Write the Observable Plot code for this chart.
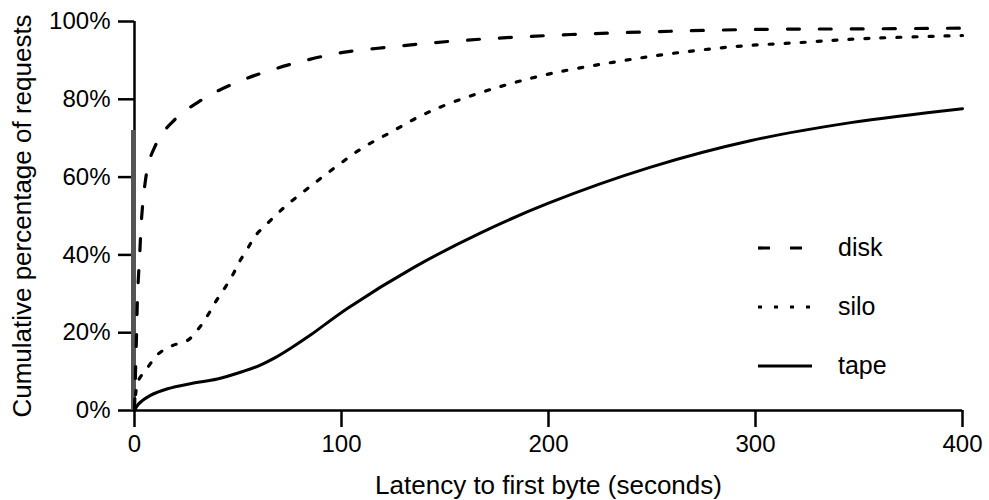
<!DOCTYPE html>
<html>
<head>
<meta charset="utf-8">
<script src="https://cdn.jsdelivr.net/npm/d3@7"></script>
<script src="https://cdn.jsdelivr.net/npm/@observablehq/plot@0.6"></script>
<style>
  html, body { margin: 0; padding: 0; background: #fff; }
  #wrap { position: relative; width: 989px; height: 500px; font-family: "Liberation Sans", Arial, Helvetica, sans-serif; }
  #legend { position: absolute; left: 756px; top: 218px; font-size: 25px; color: #000; }
  #legend .row { display: flex; align-items: center; height: 59px; }
  #legend svg { width: 60px; height: 10px; margin-right: 22px; }
</style>
</head>
<body>
<div id="wrap"></div>
<script>
// Latency to first byte (seconds) vs cumulative percentage of requests
const diskX = [0, 0.5, 1, 1.5, 2.5, 3.5, 5, 7, 10, 13, 18, 23, 30, 36, 50, 63, 79, 100, 125, 150, 175, 213, 259, 306, 351, 400];
const diskY = [0, 10, 20, 30, 40, 50, 58, 64, 68, 71, 74, 76.5, 79, 81, 84.5, 87, 89.5, 92, 93.5, 94.8, 95.7, 96.7, 97.5, 98, 98.1, 98.3];

const siloX = [0, 0.5, 1.9, 6.3, 11.6, 18.4, 25.6, 30.9, 35.3, 39, 43, 47.3, 50.2, 54.6, 58.5, 63.3, 69, 74.5, 86.6, 98.7, 110.7, 123.7, 137, 151, 175, 201, 231, 260, 291, 322, 352, 400];
const siloY = [0, 4, 7.7, 11, 14.6, 16.7, 18, 21, 24.4, 27.8, 31, 34.7, 37.8, 41.6, 45, 47.6, 50.6, 53.2, 58.3, 63.2, 67.7, 71.5, 75.4, 78.7, 83, 86.6, 89.5, 91.8, 93.6, 94.6, 95.6, 96.4];

const tapeX = [0, 2, 7.7, 16, 27, 40, 52.7, 60, 68, 76, 85, 103, 135, 167, 200, 249, 298, 346, 400];
const tapeY = [0, 1.7, 3.9, 5.6, 6.9, 8.1, 10.1, 11.5, 13.6, 16.2, 19.4, 26.3, 36.8, 45.6, 53.3, 62.5, 69.4, 74, 77.6];

const spikeTop = [72]; // dense overlap of curves at zero latency
const xTicks = [0, 100, 200, 300, 400];
const yTicks = [0, 20, 40, 60, 80, 100];
const seriesNames = ["disk", "silo", "tape"];
const dashes = { disk: "12,20", silo: "4,12", tape: null };
const xLabel = "Latency to first byte (seconds)";
const yLabel = "Cumulative percentage of requests";

const pts = (xs, ys) => xs.map((x, i) => ({ x, y: ys[i] }));
const disk = pts(diskX, diskY), silo = pts(siloX, siloY), tape = pts(tapeX, tapeY);

const chart = Plot.plot({
  width: 989,
  height: 500,
  marginLeft: 134,
  marginRight: 27,
  marginTop: 21,
  marginBottom: 90,
  style: { fontFamily: '"Liberation Sans", Arial, Helvetica, sans-serif', fontSize: "24px", color: "#000", background: "#fff", overflow: "visible" },
  x: { domain: [0, 400] },
  y: { domain: [0, 100] },
  marks: [
    Plot.axisX({ ticks: xTicks, tickSize: 17, tickPadding: 7, strokeWidth: 2.5, label: null, fontSize: 24 }),
    Plot.axisY({ ticks: yTicks, tickSize: 16, tickPadding: 8, strokeWidth: 2.5, tickFormat: d => d + "%", label: null, fontSize: 24 }),
    Plot.ruleY([0], { x1: 0, x2: 400, stroke: "#000", strokeWidth: 2.5 }),
    Plot.ruleX([0], { y1: 0, y2: 100, stroke: "#000", strokeWidth: 2.5 }),
    Plot.ruleX(spikeTop, { x: 0, y1: 0, y2: d => d, stroke: "#555", strokeWidth: 5, dx: -1 }),
    Plot.line(disk, { x: "x", y: "y", curve: "catmull-rom", stroke: "#000", strokeWidth: 3.2, strokeDasharray: dashes.disk }),
    Plot.line(silo, { x: "x", y: "y", curve: "catmull-rom", stroke: "#000", strokeWidth: 3.2, strokeDasharray: dashes.silo }),
    Plot.line(tape, { x: "x", y: "y", curve: "catmull-rom", stroke: "#000", strokeWidth: 3 }),
    Plot.text([xLabel], { frameAnchor: "bottom", dy: 75, fontSize: 26, fill: "#000", textAnchor: "middle", lineAnchor: "middle" }),
    Plot.text([yLabel], { frameAnchor: "left", dx: -112, rotate: -90, fontSize: 26, fill: "#000", textAnchor: "middle", lineAnchor: "middle" })
  ]
});

const wrap = document.getElementById("wrap");
wrap.appendChild(chart);

const legend = document.createElement("div");
legend.id = "legend";
for (const name of seriesNames) {
  const row = document.createElement("div");
  row.className = "row";
  const da = dashes[name];
  row.innerHTML = `<svg viewBox="0 0 60 10"><line x1="2" y1="5" x2="56" y2="5" stroke="#000" stroke-width="3.2" ${da ? `stroke-dasharray="${da}"` : ""}/></svg><span>${name}</span>`;
  legend.appendChild(row);
}
wrap.appendChild(legend);
</script>
</body>
</html>
